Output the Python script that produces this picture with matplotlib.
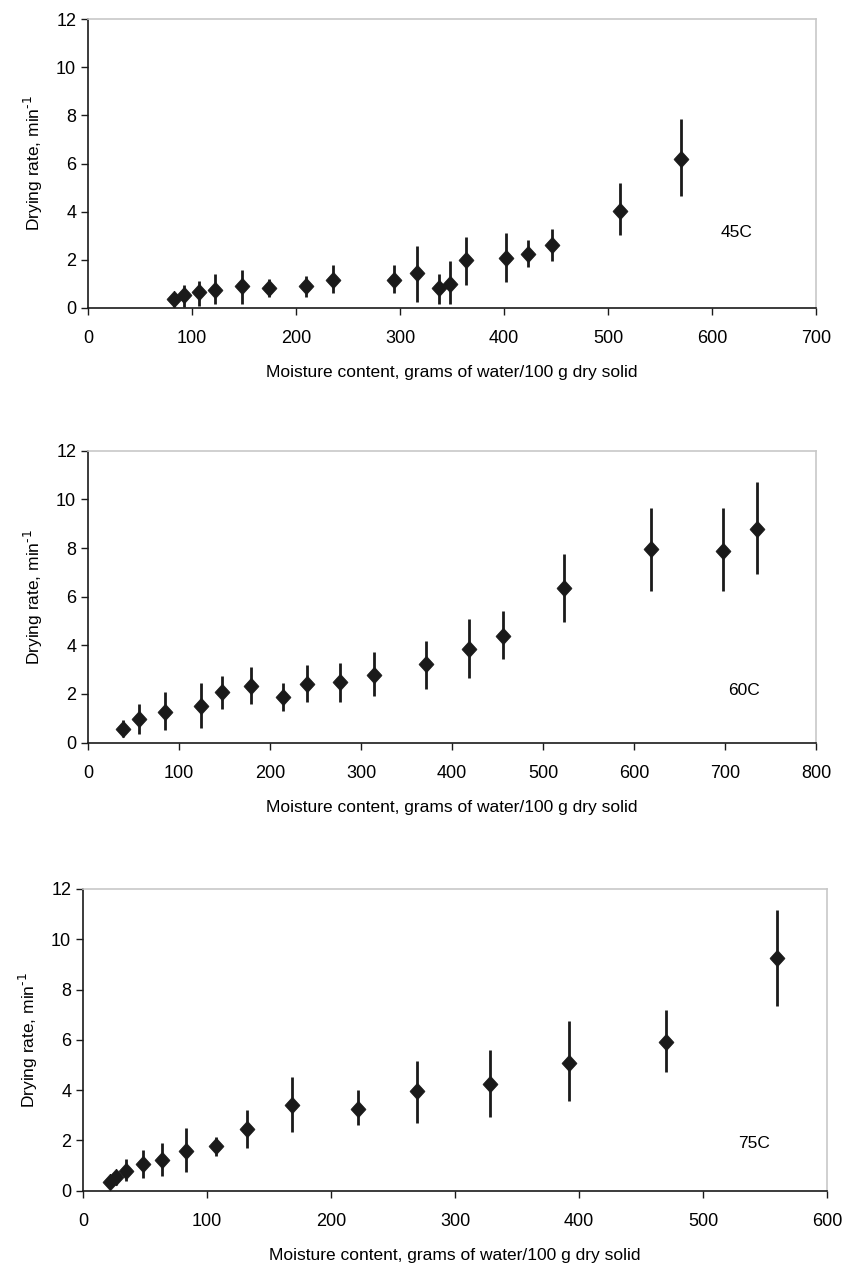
import matplotlib
matplotlib.use('Agg')
import matplotlib.pyplot as plt

plt.rcParams['font.family'] = ['Liberation Sans', 'DejaVu Sans']

# 45C panel
x45 = [82.7, 91.9, 106.8, 122.3, 148.4, 174.5, 209.3, 235.9, 293.9, 316.6,
       337.9, 348.5, 363.5, 402.2, 423.5, 445.7, 511.9, 570.4]
y45 = [0.37, 0.55, 0.65, 0.73, 0.93, 0.84, 0.93, 1.18, 1.18, 1.45,
       0.83, 1.00, 2.00, 2.07, 2.25, 2.63, 4.04, 6.18]
hi45 = [0.62, 0.94, 1.11, 1.41, 1.59, 1.22, 1.31, 1.77, 1.77, 2.56,
        1.41, 1.94, 2.93, 3.11, 2.83, 3.28, 5.17, 7.85]
lo45 = [0.05, 0.05, 0.07, 0.17, 0.17, 0.46, 0.44, 0.62, 0.62, 0.25,
        0.17, 0.17, 0.97, 1.06, 1.69, 1.94, 3.01, 4.63]

# 60C panel
x60 = [38.7, 55.8, 85.1, 123.8, 147.0, 179.0, 213.8, 240.9, 277.3, 313.8,
       371.8, 418.2, 456.4, 522.7, 618.8, 697.8, 735.4]
y60 = [0.55, 0.99, 1.26, 1.52, 2.07, 2.33, 1.89, 2.41, 2.49, 2.78,
       3.23, 3.84, 4.38, 6.37, 7.97, 7.88, 8.78]
hi60 = [0.93, 1.58, 2.10, 2.47, 2.74, 3.10, 2.45, 3.19, 3.27, 3.73,
        4.18, 5.07, 5.41, 7.75, 9.63, 9.63, 10.71]
lo60 = [0.22, 0.34, 0.52, 0.59, 1.40, 1.58, 1.32, 1.68, 1.68, 1.93,
        2.22, 2.66, 3.45, 4.97, 6.23, 6.23, 6.93]

# 75C panel
x75 = [22.1, 26.9, 35.0, 48.3, 63.5, 82.8, 107.0, 132.3, 168.9, 221.6,
       269.4, 328.5, 392.0, 470.4, 559.7]
y75 = [0.36, 0.53, 0.78, 1.06, 1.22, 1.59, 1.79, 2.45, 3.42, 3.26,
       3.98, 4.23, 5.10, 5.90, 9.24]
hi75 = [0.56, 0.76, 1.26, 1.62, 1.88, 2.51, 2.15, 3.21, 4.53, 4.00,
        5.16, 5.60, 6.75, 7.19, 11.15]
lo75 = [0.09, 0.23, 0.40, 0.49, 0.58, 0.76, 1.38, 1.72, 2.33, 2.60,
        2.69, 2.94, 3.57, 4.72, 7.36]

panels = [
    (x45, y45, hi45, lo45, 700, '45C', [0.1039, 0.7609, 0.8595, 0.2243], (608, 3.15)),
    (x60, y60, hi60, lo60, 800, '60C', [0.1039, 0.4234, 0.8595, 0.2267], (703, 2.16)),
    (x75, y75, hi75, lo75, 600, '75C', [0.0980, 0.0755, 0.8784, 0.2343], (528, 1.86)),
]

xlabel = 'Moisture content, grams of water/100 g dry solid'
ylabel = r'Drying rate, min$^{\text{-1}}$'

# slightly tall diamond, like the original marker
diamond = [(0, 1), (0.9, 0), (0, -1), (-0.9, 0), (0, 1)]

fig = plt.figure(figsize=(8.47, 12.88), dpi=100)

for xs, ys, hi, lo, xmax, tag, rect, tpos in panels:
    ax = fig.add_axes(rect)
    err = [[y - l for y, l in zip(ys, lo)], [h - y for y, h in zip(ys, hi)]]
    ax.errorbar(xs, ys, yerr=err, fmt='none', ecolor='#1a1a1a',
                elinewidth=2, capsize=0, zorder=3)
    ax.plot(xs, ys, ls='none', marker=diamond, ms=12, color='#1a1a1a',
            mec='#1a1a1a', mew=0.5, zorder=4)
    ax.set_xlim(0, xmax)
    ax.set_ylim(0, 12)
    ax.set_xticks(range(0, xmax + 1, 100))
    ax.set_yticks(range(0, 13, 2))
    ax.tick_params(labelsize=13, length=5, width=1, color='#1a1a1a')
    ax.tick_params(axis='x', pad=11)
    for s in ['top', 'right']:
        ax.spines[s].set_color('#c8c8c8')
        ax.spines[s].set_linewidth(1.2)
    for s in ['left', 'bottom']:
        ax.spines[s].set_color('#1a1a1a')
        ax.spines[s].set_linewidth(1.2)
    ax.set_xlabel(xlabel, fontsize=12.5, labelpad=13)
    ax.set_ylabel(ylabel, fontsize=12.5, labelpad=8)
    ax.text(tpos[0], tpos[1], tag, fontsize=12.5, ha='left', va='center')

fig.savefig('out.png', dpi=100)
